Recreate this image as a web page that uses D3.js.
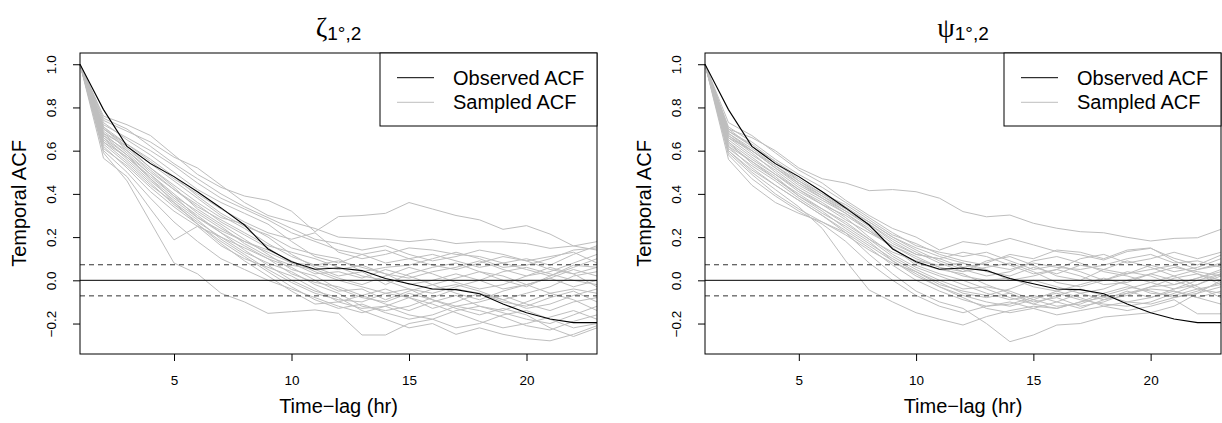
<!DOCTYPE html>
<html>
<head>
<meta charset="utf-8">
<script src="https://cdn.jsdelivr.net/npm/d3@7"></script>
<style>
  body { margin: 0; background: #fff; }
  svg { display: block; }
  text { font-family: "Liberation Sans", Arial, sans-serif; fill: #000; }
</style>
</head>
<body>
<svg id="chart" width="1222" height="423"></svg>
<script>
// lags (hours)
var lags = [1, 2, 3, 4, 5, 6, 7, 8, 9, 10, 11, 12, 13, 14, 15, 16, 17, 18, 19, 20, 21, 22, 23];

// observed temporal ACF (same in both panels)
var observedAcf = [1.0, 0.79, 0.62, 0.54, 0.48, 0.41, 0.335, 0.256, 0.145, 0.086, 0.051, 0.057, 0.045, 0.008,
  -0.016, -0.04, -0.043, -0.062, -0.11, -0.15, -0.179, -0.196, -0.196];

// sampled ACFs, zeta panel
var sampledZeta = [
  [1, 0.76, 0.72, 0.67, 0.58, 0.49, 0.43, 0.39, 0.37, 0.32, 0.225, 0.295, 0.30, 0.31, 0.36, 0.33, 0.30, 0.28, 0.236, 0.253, 0.214, 0.159, 0.179],
  [1, 0.74, 0.69, 0.64, 0.57, 0.52, 0.44, 0.36, 0.30, 0.27, 0.24, 0.20, 0.194, 0.19, 0.179, 0.19, 0.17, 0.178, 0.178, 0.17, 0.148, 0.159, 0.14],
  [1, 0.72, 0.66, 0.60, 0.53, 0.45, 0.38, 0.33, 0.28, 0.22, 0.18, 0.14, 0.12, 0.08, 0.10, 0.12, 0.09, 0.06, 0.08, 0.05, 0.02, 0.06, 0.10],
  [1, 0.70, 0.63, 0.55, 0.47, 0.40, 0.33, 0.27, 0.22, 0.19, 0.22, 0.13, 0.10, 0.12, 0.15, 0.14, 0.12, 0.11, 0.08, 0.10, 0.07, 0.12, 0.16],
  [1, 0.68, 0.62, 0.52, 0.44, 0.36, 0.29, 0.26, 0.20, 0.12, 0.06, 0.02, 0.04, -0.02, 0.03, 0.06, 0.08, 0.04, 0.0, -0.03, 0.02, 0.07, 0.06],
  [1, 0.71, 0.60, 0.50, 0.42, 0.34, 0.28, 0.22, 0.16, 0.13, 0.10, 0.06, 0.02, 0.0, -0.04, -0.06, -0.03, 0.0, 0.04, 0.06, 0.03, 0.0, -0.02],
  [1, 0.66, 0.58, 0.49, 0.40, 0.31, 0.24, 0.18, 0.14, 0.09, 0.04, 0.0, -0.03, -0.06, -0.08, -0.04, -0.02, -0.05, -0.09, -0.06, -0.03, 0.02, 0.04],
  [1, 0.69, 0.61, 0.52, 0.43, 0.33, 0.26, 0.19, 0.12, 0.05, 0.02, -0.04, -0.08, -0.10, -0.06, -0.09, -0.12, -0.10, -0.07, -0.11, -0.14, -0.10, -0.08],
  [1, 0.64, 0.55, 0.45, 0.35, 0.27, 0.20, 0.13, 0.08, 0.04, -0.02, -0.06, -0.12, -0.14, -0.12, -0.08, -0.04, -0.06, -0.10, -0.12, -0.08, -0.05, -0.10],
  [1, 0.62, 0.52, 0.41, 0.32, 0.25, 0.16, 0.10, 0.06, 0.02, -0.04, -0.10, -0.13, -0.12, -0.16, -0.18, -0.14, -0.12, -0.15, -0.18, -0.20, -0.16, -0.12],
  [1, 0.60, 0.50, 0.38, 0.27, 0.18, 0.10, 0.05, 0.0, -0.04, -0.08, -0.12, -0.15, -0.12, -0.08, -0.11, -0.15, -0.19, -0.22, -0.20, -0.17, -0.14, -0.18],
  [1, 0.565, 0.48, 0.33, 0.187, 0.25, 0.20, 0.15, 0.10, 0.06, 0.0, -0.05, -0.04, -0.09, -0.05, -0.02, -0.06, -0.09, -0.05, -0.02, 0.01, -0.03, 0.0],
  [1, 0.59, 0.46, 0.27, 0.08, 0.03, -0.06, -0.10, -0.153, -0.145, -0.137, -0.153, -0.253, -0.253, -0.20, -0.18, -0.22, -0.20, -0.16, -0.14, -0.18, -0.22, -0.20],
  [1, 0.73, 0.65, 0.58, 0.50, 0.42, 0.36, 0.31, 0.26, 0.18, 0.11, 0.08, 0.12, 0.14, 0.10, 0.07, 0.05, 0.08, 0.11, 0.09, 0.05, 0.03, 0.06],
  [1, 0.67, 0.60, 0.51, 0.42, 0.35, 0.27, 0.21, 0.15, 0.08, 0.03, 0.04, 0.01, 0.05, 0.02, -0.02, 0.01, 0.04, 0.02, -0.02, -0.06, -0.04, -0.06],
  [1, 0.65, 0.57, 0.47, 0.38, 0.30, 0.22, 0.16, 0.10, 0.03, -0.01, -0.03, -0.07, -0.11, -0.14, -0.10, -0.07, -0.12, -0.14, -0.10, -0.06, -0.09, -0.14],
  [1, 0.63, 0.54, 0.44, 0.36, 0.28, 0.19, 0.12, 0.05, -0.01, -0.06, -0.09, -0.10, -0.06, -0.04, -0.09, -0.13, -0.16, -0.13, -0.16, -0.22, -0.26, -0.22],
  [1, 0.68, 0.59, 0.49, 0.39, 0.29, 0.22, 0.14, 0.07, 0.0, -0.05, -0.08, -0.14, -0.18, -0.22, -0.20, -0.25, -0.22, -0.25, -0.27, -0.28, -0.25, -0.21],
  [1, 0.70, 0.62, 0.54, 0.46, 0.38, 0.30, 0.24, 0.17, 0.11, 0.07, 0.05, 0.07, 0.03, -0.02, 0.0, 0.03, 0.0, -0.04, -0.02, 0.01, 0.05, 0.02],
  [1, 0.66, 0.56, 0.46, 0.37, 0.29, 0.23, 0.18, 0.13, 0.08, 0.07, 0.09, 0.06, 0.03, 0.01, 0.04, 0.06, 0.09, 0.05, 0.02, 0.04, 0.08, 0.12],
  [1, 0.61, 0.53, 0.43, 0.34, 0.26, 0.18, 0.11, 0.04, -0.03, -0.09, -0.13, -0.11, -0.15, -0.18, -0.16, -0.12, -0.14, -0.17, -0.21, -0.23, -0.19, -0.16],
  [1, 0.75, 0.70, 0.62, 0.54, 0.47, 0.40, 0.34, 0.29, 0.24, 0.19, 0.17, 0.14, 0.16, 0.12, 0.09, 0.11, 0.14, 0.12, 0.09, 0.11, 0.13, 0.08],
  [1, 0.64, 0.57, 0.48, 0.39, 0.32, 0.25, 0.17, 0.11, 0.07, 0.05, 0.01, -0.02, 0.02, 0.06, 0.03, -0.01, -0.04, -0.02, 0.02, 0.06, 0.03, -0.03],
  [1, 0.67, 0.58, 0.47, 0.36, 0.26, 0.17, 0.09, 0.02, -0.05, -0.11, -0.10, -0.07, -0.04, -0.08, -0.13, -0.10, -0.06, -0.09, -0.13, -0.11, -0.07, -0.04],
  [1, 0.71, 0.63, 0.56, 0.48, 0.39, 0.31, 0.25, 0.21, 0.15, 0.12, 0.10, 0.04, 0.06, 0.07, 0.10, 0.13, 0.10, 0.06, 0.07, 0.10, 0.14, 0.15]
];

// sampled ACFs, psi panel
var sampledPsi = [
  [1, 0.70, 0.66, 0.60, 0.52, 0.47, 0.45, 0.415, 0.42, 0.41, 0.38, 0.318, 0.294, 0.302, 0.264, 0.241, 0.225, 0.22, 0.199, 0.182, 0.194, 0.197, 0.236],
  [1, 0.73, 0.67, 0.59, 0.51, 0.45, 0.37, 0.30, 0.24, 0.20, 0.14, 0.179, 0.164, 0.194, 0.164, 0.133, 0.118, 0.094, 0.133, 0.148, 0.102, 0.071, 0.117],
  [1, 0.60, 0.50, 0.42, 0.34, 0.24, 0.09, -0.045, -0.10, -0.15, -0.18, -0.207, -0.168, -0.14, -0.12, -0.13, -0.10, -0.08, -0.06, -0.04, -0.05, -0.08, -0.05],
  [1, 0.62, 0.52, 0.44, 0.37, 0.30, 0.22, 0.12, 0.03, -0.05, -0.10, -0.13, -0.20, -0.284, -0.253, -0.207, -0.20, -0.17, -0.16, -0.15, -0.12, -0.06, 0.0],
  [1, 0.68, 0.60, 0.52, 0.45, 0.39, 0.32, 0.25, 0.17, 0.12, 0.10, 0.06, 0.08, 0.12, 0.10, 0.14, 0.13, 0.10, 0.14, 0.15, 0.09, 0.05, 0.07],
  [1, 0.66, 0.58, 0.51, 0.43, 0.37, 0.31, 0.24, 0.15, 0.08, 0.05, 0.03, -0.02, -0.06, -0.10, -0.08, -0.12, -0.10, -0.06, -0.03, -0.02, 0.01, 0.04],
  [1, 0.64, 0.56, 0.49, 0.42, 0.36, 0.29, 0.20, 0.12, 0.06, 0.02, -0.02, -0.06, -0.09, -0.07, -0.10, -0.13, -0.09, -0.05, -0.08, -0.04, 0.0, 0.03],
  [1, 0.70, 0.62, 0.54, 0.47, 0.40, 0.33, 0.27, 0.20, 0.15, 0.11, 0.08, 0.04, 0.02, 0.06, 0.03, 0.07, 0.05, 0.09, 0.06, 0.02, -0.03, -0.08],
  [1, 0.59, 0.49, 0.40, 0.33, 0.27, 0.22, 0.15, 0.07, 0.0, -0.05, -0.09, -0.12, -0.11, -0.08, -0.06, -0.09, -0.11, -0.12, -0.10, -0.06, -0.02, 0.03],
  [1, 0.67, 0.59, 0.50, 0.42, 0.35, 0.28, 0.22, 0.16, 0.11, 0.06, 0.04, 0.09, 0.11, 0.07, 0.02, 0.0, 0.05, 0.03, 0.07, 0.04, 0.06, 0.10],
  [1, 0.63, 0.55, 0.47, 0.39, 0.33, 0.27, 0.19, 0.11, 0.05, 0.0, -0.04, -0.03, -0.05, -0.09, -0.12, -0.11, -0.07, -0.04, -0.01, 0.02, 0.05, 0.08],
  [1, 0.56, 0.44, 0.36, 0.31, 0.27, 0.21, 0.14, 0.08, 0.04, -0.02, -0.05, -0.07, -0.04, 0.0, -0.03, -0.06, -0.04, 0.0, 0.03, 0.0, -0.04, -0.02],
  [1, 0.69, 0.63, 0.55, 0.48, 0.41, 0.34, 0.27, 0.20, 0.14, 0.09, 0.05, 0.02, 0.04, 0.09, 0.11, 0.08, 0.04, 0.02, -0.01, -0.04, -0.02, 0.02],
  [1, 0.65, 0.57, 0.49, 0.41, 0.35, 0.30, 0.23, 0.15, 0.07, 0.03, 0.0, -0.04, -0.08, -0.11, -0.07, -0.04, -0.07, -0.10, -0.08, -0.05, -0.08, -0.11],
  [1, 0.61, 0.53, 0.46, 0.38, 0.31, 0.25, 0.18, 0.09, 0.02, -0.03, -0.07, -0.10, -0.12, -0.09, -0.05, -0.08, -0.12, -0.14, -0.12, -0.09, -0.155, -0.155],
  [1, 0.71, 0.64, 0.56, 0.49, 0.43, 0.36, 0.29, 0.22, 0.16, 0.13, 0.11, 0.13, 0.09, 0.05, 0.07, 0.04, 0.0, 0.03, 0.05, 0.07, 0.03, 0.0],
  [1, 0.60, 0.51, 0.44, 0.37, 0.30, 0.23, 0.16, 0.09, 0.03, -0.03, -0.08, -0.13, -0.15, -0.13, -0.10, -0.06, -0.09, -0.07, -0.03, 0.01, 0.03, -0.02],
  [1, 0.68, 0.61, 0.53, 0.45, 0.38, 0.31, 0.23, 0.16, 0.10, 0.06, 0.02, 0.0, 0.01, -0.03, -0.05, -0.02, 0.01, -0.02, -0.06, -0.07, -0.04, -0.06],
  [1, 0.64, 0.54, 0.47, 0.40, 0.33, 0.26, 0.19, 0.13, 0.09, 0.07, 0.08, 0.05, 0.0, 0.02, 0.05, 0.10, 0.12, 0.08, 0.10, 0.13, 0.10, 0.13],
  [1, 0.66, 0.60, 0.52, 0.44, 0.38, 0.32, 0.26, 0.19, 0.13, 0.08, 0.04, 0.06, 0.08, 0.04, -0.01, -0.03, 0.0, 0.04, 0.02, -0.02, 0.01, 0.05],
  [1, 0.62, 0.55, 0.48, 0.39, 0.32, 0.24, 0.17, 0.10, 0.04, -0.01, -0.06, -0.08, -0.06, -0.11, -0.13, -0.10, -0.06, -0.03, -0.05, -0.08, -0.06, -0.03],
  [1, 0.69, 0.62, 0.55, 0.46, 0.40, 0.35, 0.28, 0.21, 0.17, 0.12, 0.09, 0.07, 0.05, 0.08, 0.06, 0.05, 0.07, 0.10, 0.12, 0.08, 0.09, 0.06],
  [1, 0.58, 0.47, 0.39, 0.32, 0.26, 0.18, 0.08, 0.0, -0.07, -0.12, -0.15, -0.12, -0.10, -0.13, -0.16, -0.14, -0.12, -0.10, -0.11, -0.08, -0.05, -0.01],
  [1, 0.67, 0.60, 0.53, 0.46, 0.39, 0.33, 0.26, 0.18, 0.12, 0.10, 0.13, 0.11, 0.07, 0.03, 0.05, 0.02, -0.02, -0.01, 0.03, 0.06, 0.04, 0.02]
];

var ciBound = 0.072;
var xTicks = [5, 10, 15, 20];
var yTicks = [-0.2, 0.0, 0.2, 0.4, 0.6, 0.8, 1.0];
var panelSymbols = ["\u03B6", "\u03C8"];
var panelSubscript = "1\u00B0,2";
var legendLabels = ["Observed ACF", "Sampled ACF"];

var svg = d3.select("#chart");

var plotTop = 53, plotBottom = 354;
var panels = [
  { symbol: panelSymbols[0], sampled: sampledZeta, left: 80, right: 597 },
  { symbol: panelSymbols[1], sampled: sampledPsi, left: 705, right: 1221 }
];

panels.forEach(function (p) {
  var g = svg.append("g");

  var x = d3.scaleLinear().domain([1, 23]).range([p.left, p.right]);
  var y = d3.scaleLinear().domain([-0.341, 1.052]).range([plotBottom, plotTop]);

  var line = d3.line()
    .x(function (d, i) { return x(lags[i]); })
    .y(function (d) { return y(d); });

  // sampled ACFs
  g.append("g").selectAll("path")
    .data(p.sampled)
    .enter().append("path")
    .attr("d", line)
    .attr("fill", "none")
    .attr("stroke", "#bebebe")
    .attr("stroke-width", 1);

  // zero line and confidence bounds
  g.append("line")
    .attr("x1", p.left).attr("x2", p.right)
    .attr("y1", y(0)).attr("y2", y(0))
    .attr("stroke", "#000").attr("stroke-width", 1);

  [ciBound, -ciBound].forEach(function (c) {
    g.append("line")
      .attr("x1", p.left).attr("x2", p.right)
      .attr("y1", y(c)).attr("y2", y(c))
      .attr("stroke", "#333").attr("stroke-width", 1)
      .attr("stroke-dasharray", "5,4");
  });

  // observed ACF
  g.append("path")
    .datum(observedAcf)
    .attr("d", line)
    .attr("fill", "none")
    .attr("stroke", "#000")
    .attr("stroke-width", 1.1);

  // frame
  g.append("rect")
    .attr("x", p.left).attr("y", plotTop)
    .attr("width", p.right - p.left).attr("height", plotBottom - plotTop)
    .attr("fill", "none").attr("stroke", "#000").attr("stroke-width", 1);

  // x axis
  var xAxis = g.append("g")
    .attr("transform", "translate(0," + plotBottom + ")")
    .call(d3.axisBottom(x).tickValues(xTicks).tickSize(7).tickPadding(14).tickFormat(d3.format("d")));
  xAxis.select(".domain").remove();
  xAxis.selectAll("line").attr("stroke", "#000");
  xAxis.selectAll("text").style("font-size", "13.5px").attr("fill", "#000");

  // y axis
  var yAxis = g.append("g")
    .attr("transform", "translate(" + p.left + ",0)")
    .call(d3.axisLeft(y).tickValues(yTicks).tickSize(7).tickFormat(d3.format(".1f")));
  yAxis.select(".domain").remove();
  yAxis.selectAll("line").attr("stroke", "#000");
  yAxis.selectAll("text")
    .attr("x", null).attr("dy", null)
    .attr("transform", "translate(-24,0) rotate(-90)")
    .attr("text-anchor", "middle")
    .style("font-size", "13.5px")
    .attr("fill", "#000");

  // axis titles
  g.append("text")
    .attr("transform", "translate(" + (p.left - 54) + "," + ((plotTop + plotBottom) / 2) + ") rotate(-90)")
    .attr("text-anchor", "middle")
    .style("font-size", "20px")
    .text("Temporal ACF");

  g.append("text")
    .attr("x", (p.left + p.right) / 2)
    .attr("y", 413)
    .attr("text-anchor", "middle")
    .style("font-size", "20px")
    .text("Time\u2212lag (hr)");

  // title
  var title = g.append("text")
    .attr("x", (p.left + p.right) / 2)
    .attr("y", 37)
    .attr("text-anchor", "middle");
  title.append("tspan")
    .style("font-family", "'Liberation Serif', 'DejaVu Serif', serif")
    .style("font-size", "28px")
    .text(p.symbol);
  title.append("tspan")
    .attr("dy", 3)
    .style("font-size", "19px")
    .text(panelSubscript);

  // legend
  var lx = p.right - 217;
  var legend = g.append("g");
  legend.append("rect")
    .attr("x", lx).attr("y", plotTop)
    .attr("width", 217).attr("height", 73)
    .attr("fill", "#fff").attr("stroke", "#000").attr("stroke-width", 1);

  var legendColors = ["#000", "#bebebe"];
  var legendRows = [77.7, 102.3];
  legendLabels.forEach(function (lab, i) {
    legend.append("line")
      .attr("x1", lx + 17).attr("x2", lx + 54)
      .attr("y1", legendRows[i]).attr("y2", legendRows[i])
      .attr("stroke", legendColors[i]).attr("stroke-width", 1);
    legend.append("text")
      .attr("x", lx + 73)
      .attr("y", legendRows[i] + 7)
      .style("font-size", "20px")
      .text(lab);
  });
});
</script>
</body>
</html>
